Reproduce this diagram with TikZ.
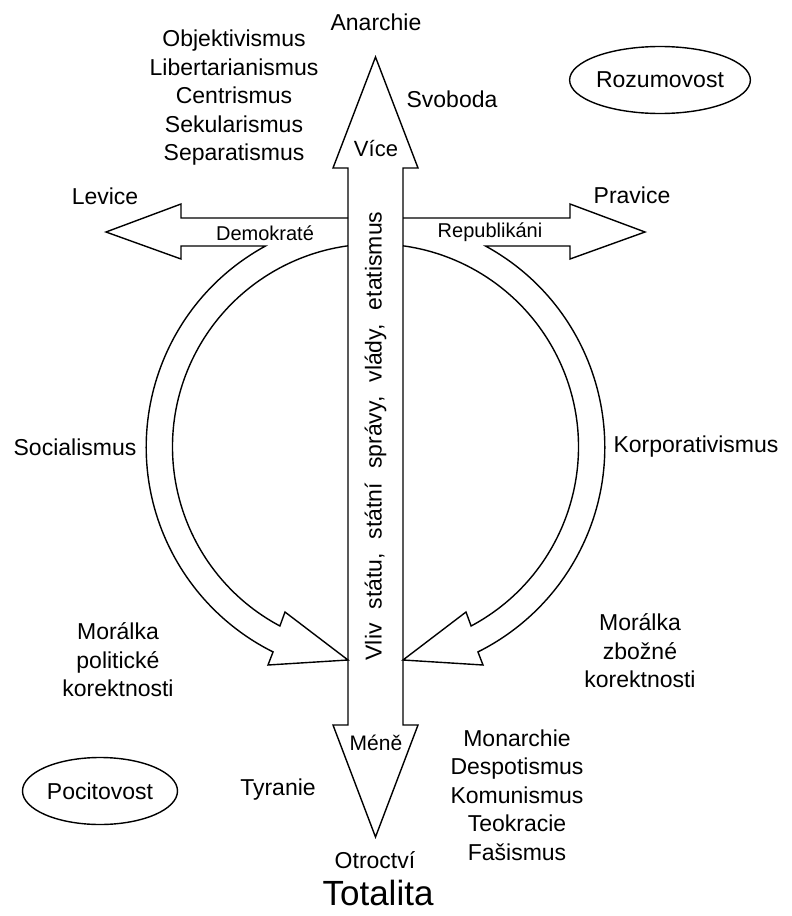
\documentclass[tikz,border=0pt]{standalone}
\usepackage{fontspec}
\setmainfont{Liberation Sans}
\usetikzlibrary{shapes.geometric}
\begin{document}
\begin{tikzpicture}[x=1pt,y=-1pt, line width=1.4pt, line join=miter,
  lbl/.style={font=\fontsize{23}{28.5}\selectfont, align=center, inner sep=0pt},
  small/.style={font=\fontsize{20}{24}\selectfont, inner sep=0pt},
  oval/.style={draw, ellipse, minimum width=155pt, minimum height=67pt, inner sep=0pt, font=\fontsize{23}{28}\selectfont},
  outline/.style={draw=black, line width=1.4pt}]
\useasboundingbox (0,0) rectangle (792,916);
% vertical double arrow
\draw[outline] (375.5,57) -- (418,168) -- (403,168) -- (403,725) -- (418,725) -- (375.5,837)
  -- (333,725) -- (348,725) -- (348,168) -- (333,168) -- cycle;
% left arrow + curved arrow
\draw[outline] (348,218) -- (181,218) -- (181,204) -- (106,232) -- (181,259) -- (181,246) -- (265.5,246)
  arc[start angle=241.37, end angle=116.5, radius=229]
  -- (268,665) -- (348,660) -- (285,612) -- (279.9,626)
  arc[start angle=118.1, end angle=262.2, radius=203];
% right arrow + curved arrow
\draw[outline] (403,218) -- (570,218) -- (570,204) -- (645,232) -- (570,259) -- (570,246) -- (485.5,246)
  arc[start angle=-61.37, end angle=63.5, radius=229]
  -- (483,665) -- (403,660) -- (466,612) -- (471.1,626)
  arc[start angle=61.9, end angle=-82.2, radius=203];
% labels
\node[lbl] (anarchie) at (376,22) {Anarchie};
\node[lbl] (ideas) at (234,98) {Objektivismus\\Libertarianismus\\Centrismus\\Sekularismus\\Separatismus};
\node[lbl] (svoboda) at (452,99) {Svoboda};
\node[oval] (rozum) at (660,80) {Rozumovost};
\node[lbl, font=\fontsize{22}{26}\selectfont] (vice) at (376,149) {Více};
\node[lbl] (levice) at (105,196) {Levice};
\node[lbl] (pravice) at (632,195) {Pravice};
\node[small] (demo) at (265,233) {Demokraté};
\node[small] (rep) at (490,232) {Republikáni};
\node[lbl, rotate=90] (vliv) at (375.5,436) {Vliv\hspace{14pt}státu,\hspace{14pt}státní\hspace{14pt}správy,\hspace{14pt}vlády,\hspace{14pt}etatismus};
\node[lbl] (social) at (75,447) {Socialismus};
\node[lbl] (korpo) at (696,447) {Korporativismus};
\node[lbl] (moralL) at (118,660) {Morálka\\politické\\korektnosti};
\node[lbl] (moralR) at (640,651) {Morálka\\zbožné\\korektnosti};
\node[lbl, font=\fontsize{21}{26}\selectfont] (mene) at (376,743) {Méně};
\node[lbl] (regimes) at (517,795) {Monarchie\\Despotismus\\Komunismus\\Teokracie\\Fašismus};
\node[lbl] (tyranie) at (278,790) {Tyranie};
\node[oval] (pocit) at (100,791) {Pocitovost};
\node[lbl] (otroctvi) at (375,860) {Otroctví};
\node[lbl, font=\fontsize{35}{40}\selectfont] (totalita) at (378,893) {Totalita};
\end{tikzpicture}
\end{document}
